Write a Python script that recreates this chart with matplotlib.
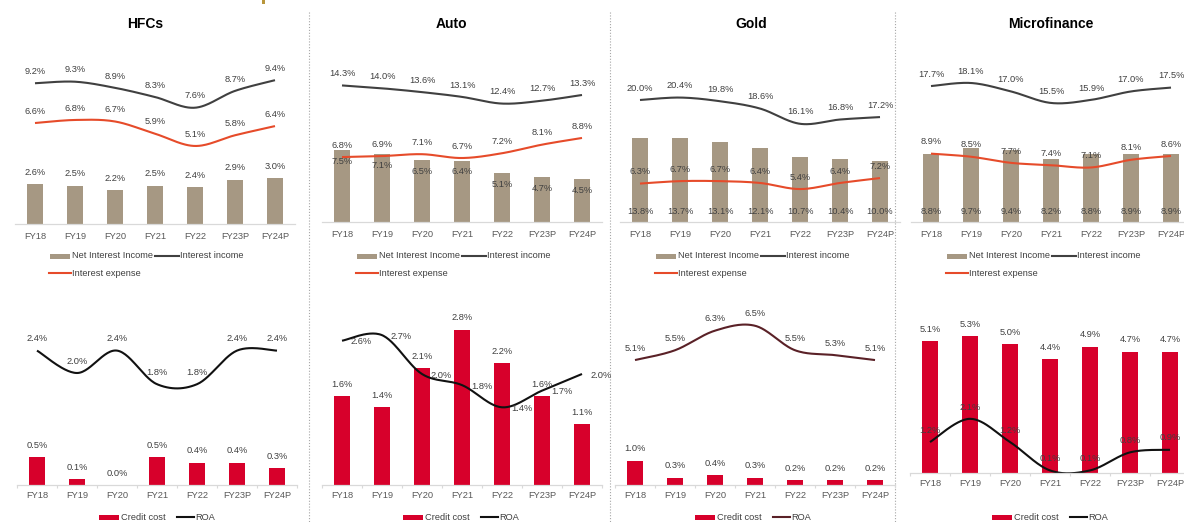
import numpy as np
import matplotlib
matplotlib.use("Agg")
import matplotlib.pyplot as plt
from matplotlib.patches import Rectangle
from matplotlib.lines import Line2D

plt.rcParams['font.family'] = ['Liberation Sans', 'DejaVu Sans']

# ---------------- data ----------------
years = ['FY18', 'FY19', 'FY20', 'FY21', 'FY22', 'FY23P', 'FY24P']
segments = ['HFCs', 'Auto', 'Gold', 'Microfinance']

# Net interest income, interest income, interest expense (% of assets)
hfc_nii = [2.6, 2.5, 2.2, 2.5, 2.4, 2.9, 3.0]
hfc_inc = [9.2, 9.3, 8.9, 8.3, 7.6, 8.7, 9.4]
hfc_exp = [6.6, 6.8, 6.7, 5.9, 5.1, 5.8, 6.4]

auto_nii = [7.5, 7.1, 6.5, 6.4, 5.1, 4.7, 4.5]
auto_inc = [14.3, 14.0, 13.6, 13.1, 12.4, 12.7, 13.3]
auto_exp = [6.8, 6.9, 7.1, 6.7, 7.2, 8.1, 8.8]

gold_nii = [13.8, 13.7, 13.1, 12.1, 10.7, 10.4, 10.0]
gold_inc = [20.0, 20.4, 19.8, 18.6, 16.1, 16.8, 17.2]
gold_exp = [6.3, 6.7, 6.7, 6.4, 5.4, 6.4, 7.2]

mfi_nii = [8.8, 9.7, 9.4, 8.2, 8.8, 8.9, 8.9]
mfi_inc = [17.7, 18.1, 17.0, 15.5, 15.9, 17.0, 17.5]
mfi_exp = [8.9, 8.5, 7.7, 7.4, 7.1, 8.1, 8.6]

# Credit cost and return on assets (%)
hfc_cc = [0.5, 0.1, 0.0, 0.5, 0.4, 0.4, 0.3]
hfc_roa = [2.4, 2.0, 2.4, 1.8, 1.8, 2.4, 2.4]

auto_cc = [1.6, 1.4, 2.1, 2.8, 2.2, 1.6, 1.1]
auto_roa = [2.6, 2.7, 2.0, 1.8, 1.4, 1.7, 2.0]

gold_cc = [1.0, 0.3, 0.4, 0.3, 0.2, 0.2, 0.2]
gold_roa = [5.1, 5.5, 6.3, 6.5, 5.5, 5.3, 5.1]

mfi_cc = [5.1, 5.3, 5.0, 4.4, 4.9, 4.7, 4.7]
mfi_roa = [1.2, 2.1, 1.2, 0.1, 0.1, 0.8, 0.9]

# ---------------- style ----------------
NII_C = '#A69883'
INC_C = '#404040'
EXP_C = '#E64B2A'
CC_C = '#D7002B'
ROA_C = '#111111'
ROA_GOLD_C = '#5A2127'
TXT_C = '#404040'
TICK_C = '#595959'
AXIS_C = '#D9D9D9'
FS = 6.7

W, H = 1184, 522
fig = plt.figure(figsize=(W / 100, H / 100), dpi=100)

# overlay in pixel coordinates for titles, dividers and legends
ov = fig.add_axes([0, 0, 1, 1], zorder=-1)
ov.set_xlim(0, W)
ov.set_ylim(H, 0)
ov.axis('off')


def axes_px(left, top, width, bottom):
    ax = fig.add_axes([left / W, 1 - bottom / H, width / W, (bottom - top) / H])
    ax.set_facecolor('none')
    return ax


def smooth(x, y, n=30):
    """Catmull-Rom style Bezier smoothing through every point."""
    p = np.column_stack([x, y]).astype(float)
    out = []
    for i in range(len(p) - 1):
        p0 = p[max(i - 1, 0)]
        p1 = p[i]
        p2 = p[i + 1]
        p3 = p[min(i + 2, len(p) - 1)]
        c1 = p1 + (p2 - p0) / 6
        c2 = p2 - (p3 - p1) / 6
        t = np.linspace(0, 1, n)[:, None]
        seg = ((1 - t) ** 3) * p1 + 3 * ((1 - t) ** 2) * t * c1 + 3 * (1 - t) * t ** 2 * c2 + t ** 3 * p2
        out.append(seg if i == 0 else seg[1:])
    s = np.vstack(out)
    return s[:, 0], s[:, 1]


def label(ax, x, y, val, dx=0, dy=8.5, ha='center'):
    ax.annotate(f'{val:.1f}%', (x, y), xytext=(dx, dy), textcoords='offset points',
                ha=ha, va='center', fontsize=FS, color=TXT_C, annotation_clip=False)


def style_axis(ax, base_ticks=False, pad=6):
    for s in ['top', 'right', 'left']:
        ax.spines[s].set_visible(False)
    ax.spines['bottom'].set_color(AXIS_C)
    ax.spines['bottom'].set_linewidth(0.9)
    ax.set_yticks([])
    ax.set_xlim(-0.5, 6.5)
    ax.set_xticks(np.arange(len(years)))
    ax.set_xticklabels(years)
    ax.tick_params(axis='x', which='major', length=0, pad=pad, labelsize=FS, labelcolor=TICK_C)
    if base_ticks:
        ax.set_xticks(np.arange(-0.5, len(years)), minor=True)
        ax.tick_params(axis='x', which='minor', length=2.5, width=0.8, color=AXIS_C)


def top_panel(left, base, scale, nii, inc, exp, nii_pos):
    ax = axes_px(left, 50, 280, base)
    x = np.arange(len(years))
    ax.bar(x, nii, width=0.4, color=NII_C, zorder=1)
    xs, ys = smooth(x, inc)
    ax.plot(xs, ys, color=INC_C, lw=1.5, zorder=2, solid_capstyle='butt')
    xs, ys = smooth(x, exp)
    ax.plot(xs, ys, color=EXP_C, lw=1.5, zorder=2, solid_capstyle='butt')
    ax.set_ylim(0, (base - 50) / scale)
    style_axis(ax, pad=6)
    for i in range(len(years)):
        label(ax, x[i], inc[i], inc[i])
        label(ax, x[i], exp[i], exp[i])
        if nii_pos == 'above':
            label(ax, x[i], nii[i], nii[i])
        elif nii_pos == 'inside_end':
            label(ax, x[i], nii[i], nii[i], dy=-8)
        else:
            label(ax, x[i], 0, nii[i], dy=7.3)
    return ax


def bottom_panel(left, base, scale, cc, roa, roa_color, roa_pos):
    ax = axes_px(left, 300, 280, base)
    x = np.arange(len(years))
    ax.bar(x, cc, width=0.4, color=CC_C, zorder=1)
    xs, ys = smooth(x, roa)
    ax.plot(xs, ys, color=roa_color, lw=1.5, zorder=2, solid_capstyle='butt')
    ax.set_ylim(0, (base - 300) / scale)
    style_axis(ax, base_ticks=True, pad=4.5)
    for i in range(len(years)):
        label(ax, x[i], cc[i], cc[i])
        if roa_pos == 'right':
            label(ax, x[i], roa[i], roa[i], dx=6.5, dy=-0.8, ha='left')
        else:
            label(ax, x[i], roa[i], roa[i])
    return ax


# ---------------- panels ----------------
top_panel(15, 224, 15.3, hfc_nii, hfc_inc, hfc_exp, 'above')
top_panel(322, 222, 9.55, auto_nii, auto_inc, auto_exp, 'inside_end')
top_panel(620, 222, 6.1, gold_nii, gold_inc, gold_exp, 'inside_base')
top_panel(911, 222, 7.68, mfi_nii, mfi_inc, mfi_exp, 'inside_base')

bottom_panel(17, 485, 56, hfc_cc, hfc_roa, ROA_C, 'above')
bottom_panel(322, 485, 55.5, auto_cc, auto_roa, ROA_C, 'right')
bottom_panel(615, 485, 24.5, gold_cc, gold_roa, ROA_GOLD_C, 'above')
bottom_panel(910, 473, 25.8, mfi_cc, mfi_roa, ROA_C, 'above')

# ---------------- titles ----------------
for name, tx in zip(segments, [145, 451, 751, 1051]):
    ov.text(tx, 24, name, ha='center', va='center', fontsize=10, fontweight='bold', color='#000000')

# ---------------- dotted dividers ----------------
for dx in [309, 610, 895]:
    ov.add_line(Line2D([dx, dx], [12, H], color='#A6A6A6', lw=0.8, linestyle=(0, (1, 1.6))))

ov.add_patch(Rectangle((262, 0), 3, 4, color='#B8963C', lw=0))


# ---------------- legends ----------------
def patch_item(x, y, color, text):
    ov.add_patch(Rectangle((x, y - 2.5), 20, 5, color=color, lw=0))
    ov.text(x + 22, y, text, ha='left', va='center', fontsize=FS, color=TXT_C)


def line_item(x, y, color, text, length=22):
    ov.add_line(Line2D([x, x + length], [y, y], color=color, lw=1.5))
    ov.text(x + length + 1, y, text, ha='left', va='center', fontsize=FS, color=TXT_C)


for lx in [50, 357, 656, 947]:
    patch_item(lx, 256, NII_C, 'Net Interest Income')
    line_item(lx + 105, 256, INC_C, 'Interest income', length=24)
    line_item(lx - 1, 273, EXP_C, 'Interest expense', length=22)

for lx, rc in zip([99, 403, 695, 992], [ROA_C, ROA_C, ROA_GOLD_C, ROA_C]):
    patch_item(lx, 517, CC_C, 'Credit cost')
    line_item(lx + 78, 517, rc, 'ROA', length=17)

fig.savefig('out.png', dpi=100)
